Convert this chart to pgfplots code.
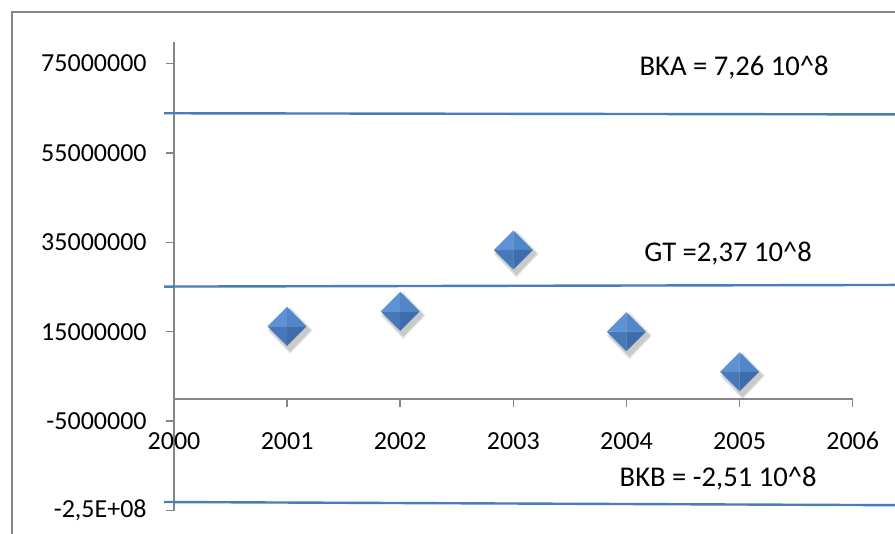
\documentclass[border=0pt]{standalone}
\usepackage{pgfplots}
\pgfplotsset{compat=1.18}
\usepackage{fontspec}
\setmainfont{Carlito}
\definecolor{axgray}{HTML}{868686}
\definecolor{lineblue}{HTML}{4A7EBB}
\definecolor{faceTL}{HTML}{5D93D4}
\definecolor{faceTR}{HTML}{5087CB}
\definecolor{faceBR}{HTML}{3D6DAC}
\definecolor{faceBL}{HTML}{4678BA}
\pgfdeclareplotmark{bev}{%
  \begin{pgfscope}
    \pgfsetfillopacity{0.10}\pgfsetfillcolor{black}%
    \pgfpathmoveto{\pgfpoint{1.5pt}{\pgfplotmarksize}}%
    \pgfpathlineto{\pgfpoint{\pgfplotmarksize+3pt}{-2pt}}%
    \pgfpathlineto{\pgfpoint{1.5pt}{-\pgfplotmarksize-4pt}}%
    \pgfpathlineto{\pgfpoint{-\pgfplotmarksize}{-2pt}}%
    \pgfpathclose\pgfusepathqfill
    \pgfsetfillopacity{0.12}%
    \pgfpathmoveto{\pgfpoint{1.5pt}{\pgfplotmarksize-1pt}}%
    \pgfpathlineto{\pgfpoint{\pgfplotmarksize+2pt}{-2pt}}%
    \pgfpathlineto{\pgfpoint{1.5pt}{-\pgfplotmarksize-3pt}}%
    \pgfpathlineto{\pgfpoint{-\pgfplotmarksize+1pt}{-2pt}}%
    \pgfpathclose\pgfusepathqfill
  \end{pgfscope}
  \pgfsetfillcolor{faceTL}%
  \pgfpathmoveto{\pgfpoint{-\pgfplotmarksize}{0pt}}%
  \pgfpathlineto{\pgfpoint{0pt}{\pgfplotmarksize}}%
  \pgfpathlineto{\pgfpoint{0pt}{0pt}}\pgfpathclose\pgfusepathqfill
  \pgfsetfillcolor{faceTR}%
  \pgfpathmoveto{\pgfpoint{0pt}{\pgfplotmarksize}}%
  \pgfpathlineto{\pgfpoint{\pgfplotmarksize}{0pt}}%
  \pgfpathlineto{\pgfpoint{0pt}{0pt}}\pgfpathclose\pgfusepathqfill
  \pgfsetfillcolor{faceBR}%
  \pgfpathmoveto{\pgfpoint{\pgfplotmarksize}{0pt}}%
  \pgfpathlineto{\pgfpoint{0pt}{-\pgfplotmarksize}}%
  \pgfpathlineto{\pgfpoint{0pt}{0pt}}\pgfpathclose\pgfusepathqfill
  \pgfsetfillcolor{faceBL}%
  \pgfpathmoveto{\pgfpoint{0pt}{-\pgfplotmarksize}}%
  \pgfpathlineto{\pgfpoint{-\pgfplotmarksize}{0pt}}%
  \pgfpathlineto{\pgfpoint{0pt}{0pt}}\pgfpathclose\pgfusepathqfill
}
\begin{document}
\begin{tikzpicture}
\useasboundingbox (0,0) rectangle (447.5pt,267pt);
\clip (0,0) rectangle (447.5pt,267pt);
\draw[axgray, line width=1pt] (5.75pt,261pt) rectangle (460pt,-10pt);
\begin{axis}[
  at={(87pt,11.7pt)}, anchor=south west,
  scale only axis, width=339.35pt, height=234.3pt,
  xmin=2000, xmax=2006, ymin=-25e6, ymax=79.8e6,
  axis x line=middle, axis y line=left,
  axis line style={axgray, line width=0.75pt, -},
  hide obscured x ticks=false, hide obscured y ticks=false,
  scaled y ticks=false, scaled x ticks=false,
  xtick={2000,2001,2002,2003,2004,2005,2006},
  xticklabels={2000,2001,2002,2003,2004,2005,2006},
  ytick={-25e6,-5e6,15e6,35e6,55e6,75e6},
  yticklabels={{-2,5E+08},-5000000,15000000,35000000,55000000,75000000},
  tick align=outside, major tick length=4pt,
  tick style={axgray, line width=0.75pt},
  ticklabel style={font=\fontsize{13}{15}\selectfont, text=black},
  xticklabel style={anchor=north, inner sep=0pt, yshift=-12.5pt},
  yticklabel style={anchor=east, inner sep=0pt, xshift=-9.5pt},
  clip=false,
]
\addplot[lineblue, line width=1.2pt] coordinates {(1999.912,63.86e6) (2006.45,63.6e6)};
\addplot[lineblue, line width=1.2pt] coordinates {(1999.912,25.1e6) (2006.45,25.47e6)};
\addplot[lineblue, line width=1.2pt] coordinates {(1999.912,-23.08e6) (2006.45,-23.8e6)};
\addplot[only marks, mark=bev, mark size=9.75pt] coordinates {
  (2001,16.2e6) (2002,19.55e6) (2003,33.3e6) (2004,15.0e6) (2005,6.05e6)};
\node[anchor=base west, inner sep=0pt, font=\fontsize{14.3}{17}\selectfont] at (axis cs:2004.113,72.37e6) {BKA = 7,26 10\textasciicircum 8};
\node[anchor=base west, inner sep=0pt, font=\fontsize{14.3}{17}\selectfont] at (axis cs:2004.155,30.78e6) {GT =2,37 10\textasciicircum 8};
\node[anchor=base west, inner sep=0pt, font=\fontsize{14.3}{17}\selectfont] at (axis cs:2003.937,-19.7e6) {BKB = -2,51 10\textasciicircum 8};
\end{axis}
\end{tikzpicture}
\end{document}
